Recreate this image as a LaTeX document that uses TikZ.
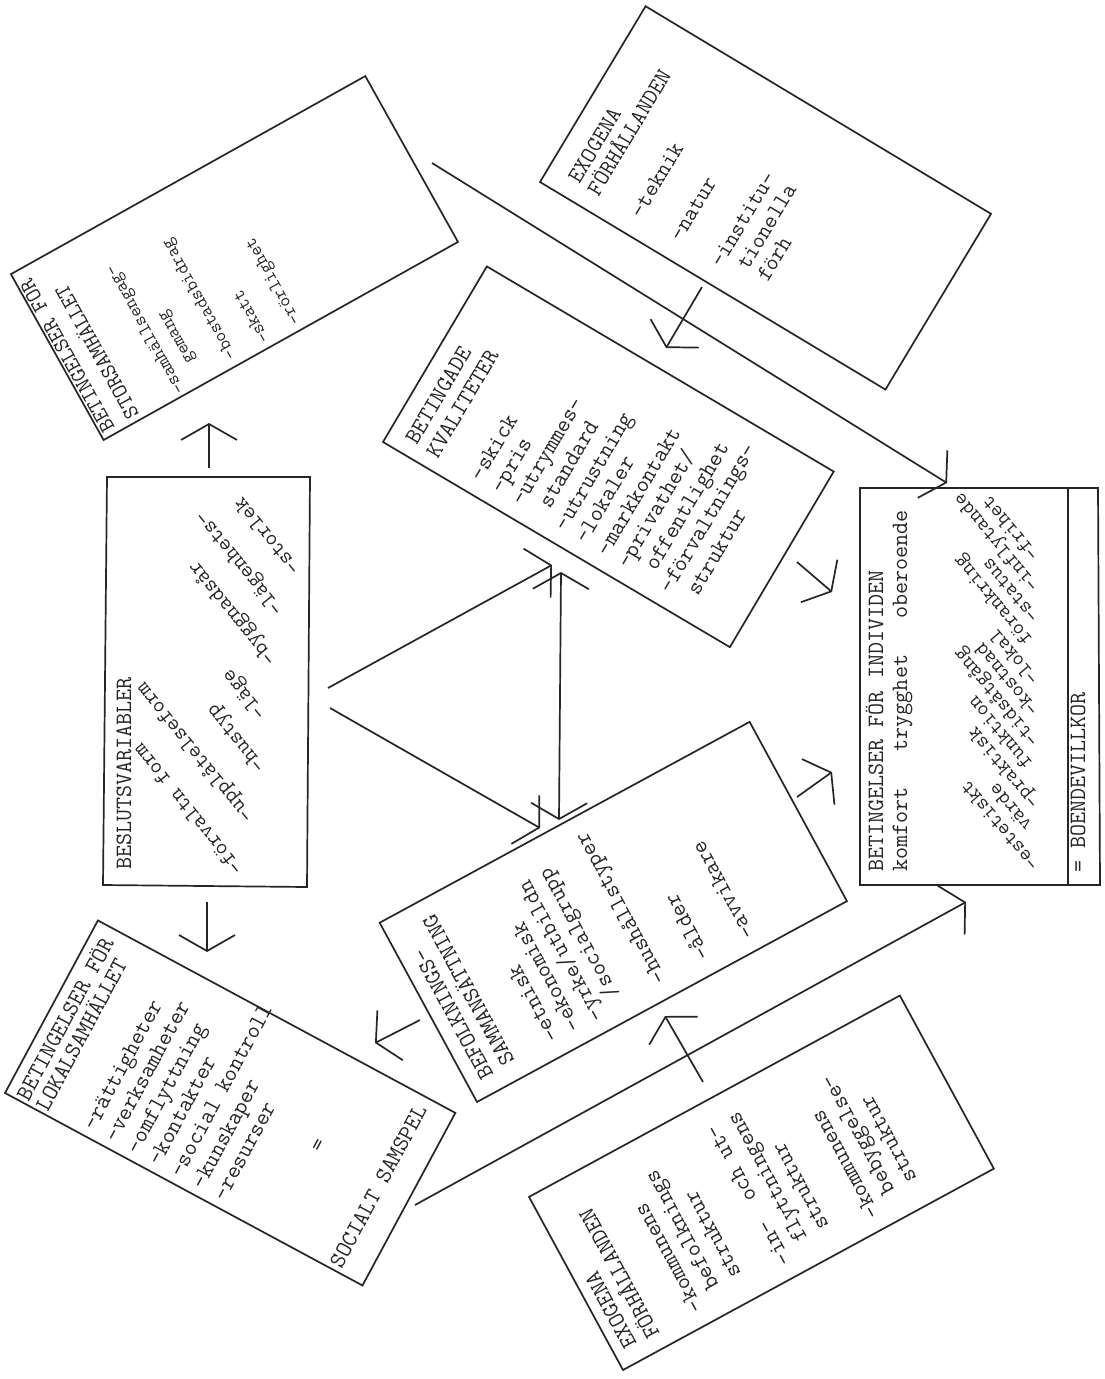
\documentclass[tikz,border=0pt]{standalone}
\usepackage{fontspec}
\usetikzlibrary{arrows.meta}
\begin{document}
\begin{tikzpicture}[x=1pt,y=-1pt,
  ln/.style={line width=1.7pt, draw=black!85},
  tipb/.tip={Straight Barb[length=16pt,width=56pt,line width=1.7pt]},
  arr/.style={ln, -tipb},
  darr/.style={ln, tipb-tipb},
  tl/.style={inner sep=0pt, anchor=west, text height=15pt, text depth=5pt, font=\ttfamily\fontsize{23.4}{28}\selectfont, text=black!85},
  tb/.style={tl, font=\ttfamily\fontsize{23}{28}\selectfont},
  ts/.style={tl, font=\ttfamily\fontsize{18.8}{22}\selectfont, text height=12pt, text depth=4pt},
  th/.style={tl, font=\ttfamily\fontsize{22.3}{26}\selectfont},
  ti/.style={tl, rotate=129, font=\ttfamily\fontsize{22.5}{26}\selectfont},
  tie/.style={tl, rotate=130, font=\ttfamily\fontsize{21.5}{26}\selectfont},
]
\useasboundingbox (0,0) rectangle (1104,1379);
\fill[white] (0,0) rectangle (1104,1379);

% ---------- Box A: Betingelser for storsamhallet
\begin{scope}[shift={(103.6,440)}, rotate=119.2, transform shape]
  \draw[ln] (0,0) rectangle (190,406);
  \node[th] (A0) at (5,11) {BETINGELSER FÖR};
  \node[th] (A1) at (5,39) {STORSAMHÄLLET};
  \node[ts] (A2) at (3,91) {-samhällsengag-};
  \node[ts] (A3) at (25,114) {gemang};
  \node[ts] (A4) at (8,153) {-bostadsbidrag};
  \node[ts] (A5) at (6,190) {-skatt};
  \node[ts] (A6) at (7,226) {-rörlighet};
\end{scope}

% ---------- Box B: Exogena forhallanden (top)
\begin{scope}[shift={(540,182)}, rotate=59, transform shape]
  \draw[ln] (0,0) rectangle (205,403);
  \node[tb] (B0) at (18,30) {EXOGENA};
  \node[tb] (B1) at (17,53) {FÖRHÅLLANDEN};
  \node[tb] (B2) at (20,101) {-teknik};
  \node[tb] (B3) at (20,147) {-natur};
  \node[tb] (B4) at (19,195) {-institu-};
  \node[tb] (B5) at (31,219) {tionella};
  \node[tb] (B6) at (31,242) {förh};
\end{scope}

% ---------- Box C: Betingade kvaliteter
\begin{scope}[shift={(383,442)}, rotate=59.4, transform shape]
  \draw[ln] (0,0) rectangle (204,403);
  \node[tl] (C0) at (14,26) {BETINGADE};
  \node[tl] (C1) at (13,51) {KVALITETER};
  \node[tl] (C2) at (15,100) {-skick};
  \node[tl] (C3) at (15,124) {-pris};
  \node[tl] (C4) at (15,148) {-utrymmes-};
  \node[tl] (C5) at (27,173) {standard};
  \node[tl] (C6) at (15,198) {-utrustning};
  \node[tl] (C7) at (15,222) {-lokaler};
  \node[tl] (C8) at (15,247) {-markkontakt};
  \node[tl] (C9) at (15,271) {-privathet/};
  \node[tl] (C10) at (27,296) {offentlighet};
  \node[tl] (C11) at (15,320) {-förvaltnings-};
  \node[tl] (C12) at (27,345) {struktur};
\end{scope}

% ---------- Box D: Beslutsvariabler
\draw[ln] (107,477) -- (310,477) -- (307,887) -- (103,885) -- cycle;
\node[tl, rotate=90] (D0) at (126,870) {BESLUTSVARIABLER};
\node[ti] (D1) at (240,872) {-förvaltn form};
\node[ti] (D2) at (250,820) {-upplåtelseform};
\node[ti] (D3) at (262,770) {-hustyp};
\node[ti] (D4) at (263,717) {-läge};
\node[ti] (D5) at (273,663) {-byggnadsår};
\node[ti] (D6) at (280,613) {-lägenhets-};
\node[ti] (D7) at (297,572) {-storlek};

% ---------- Box E: Betingelser for individen
\draw[ln] (860,488) -- (1098,488) -- (1100,885) -- (860,885) -- cycle;
\draw[ln] (1068,488) -- (1068,885);
\node[tl, rotate=90] (E0) at (878,872) {BETINGELSER FÖR INDIVIDEN};
\node[tl, rotate=90] (E1) at (902,872) {komfort\ \ \ trygghet\ \ \ oberoende};
\node[tl, rotate=90] (E2) at (1080,873) {= BOENDEVILLKOR};
\node[tie] (E3) at (1036,868) {-estetiskt};
\node[tie] (E4) at (1029,828) {värde};
\node[tie] (E5) at (1036,806) {-praktisk};
\node[tie] (E6) at (1029,766) {funktion};
\node[tie] (E7) at (1036,744) {-tidsåtgång};
\node[tie] (E8) at (1036,713) {-kostnad};
\node[tie] (E9) at (1036,682) {-lokal};
\node[tie] (E10) at (1029,642) {förankring};
\node[tie] (E11) at (1036,620) {-status};
\node[tie] (E12) at (1036,589) {-inflytande};
\node[tie] (E13) at (1036,558) {-frihet};

% ---------- Box F: Betingelser for lokalsamhallet
\begin{scope}[shift={(5,1093)}, rotate=61.7, transform shape]
  \draw[ln] (0,0) rectangle (196,406);
  \node[tl] (F0) at (3,20) {BETINGELSER FÖR};
  \node[tl] (F1) at (3,42) {LOKALSAMHÄLLET};
  \node[tl] (F2) at (8,92) {-rättigheter};
  \node[tl] (F3) at (8,116.7) {-verksamheter};
  \node[tl] (F4) at (8,141.4) {-omflyttning};
  \node[tl] (F5) at (8,166) {-kontakter};
  \node[tl] (F6) at (8,190.8) {-social kontroll};
  \node[tl] (F7) at (8,215.5) {-kunskaper};
  \node[tl] (F8) at (8,240.2) {-resurser};
  \node[tl] (F9) at (96,302) {=};
  \node[tl] (F10) at (4,375) {SOCIALT SAMSPEL};
\end{scope}

% ---------- Box G: Befolkningssammansattning
\begin{scope}[shift={(477,1102)}, rotate=118.5, transform shape]
  \draw[ln] (0,0) rectangle (204,421);
  \node[tl] (G0) at (16,23) {BEFOLKNINGS-};
  \node[tl] (G1) at (18,48) {SAMMANSÄTTNING};
  \node[tl] (G2) at (17,98) {-etnisk};
  \node[tl] (G3) at (16,122) {-ekonomisk};
  \node[tl] (G4) at (14,147) {-yrke/utbildn};
  \node[tl] (G5) at (27,171) {/socialgrupp};
  \node[tl] (G6) at (17,220) {-hushållstyper};
  \node[tl] (G7) at (17,270) {-ålder};
  \node[tl] (G8) at (14,319) {-avvikare};
\end{scope}

% ---------- Box H: Exogena forhallanden (bottom)
\begin{scope}[shift={(623,1370)}, rotate=118.5, transform shape]
  \draw[ln] (0,0) rectangle (197,422);
  \node[tl] (H0) at (16,20) {EXOGENA};
  \node[tl] (H1) at (14,45) {FÖRHÅLLANDEN};
  \node[tl] (H2) at (16,95) {-kommunens};
  \node[tl] (H3) at (28,120) {befolknings};
  \node[tl] (H4) at (28,145) {struktur};
  \node[tl] (H5) at (15,195) {-in-\ \ och ut-};
  \node[tl] (H6) at (28,220) {flyttningens};
  \node[tl] (H7) at (28,245) {struktur};
  \node[tl] (H8) at (14,295) {-kommunens};
  \node[tl] (H9) at (28,320) {bebyggelse-};
  \node[tl] (H10) at (28,345) {struktur};
\end{scope}

% ---------- connector end points
\coordinate (a1) at (432,163);  \coordinate (a2) at (947,483);
\coordinate (b1) at (702,287);  \coordinate (b2) at (666,348);
\coordinate (c1) at (797,562);  \coordinate (c2) at (832,592);
\coordinate (d1) at (797,797);  \coordinate (d2) at (832,772);
\coordinate (e1) at (703,1082); \coordinate (e2) at (665,1016);
\coordinate (f1) at (415,1205); \coordinate (f2) at (966,902);
\coordinate (g1) at (420,1020); \coordinate (g2) at (375,1043);
\coordinate (h1) at (209,468);  \coordinate (h2) at (209,423);
\coordinate (i1) at (207,902);  \coordinate (i2) at (207,952);
\coordinate (j1) at (328,688);  \coordinate (j2) at (552,565);
\coordinate (k1) at (330,708);  \coordinate (k2) at (540,828);
\coordinate (l1) at (561,572);  \coordinate (l2) at (559,820);

\draw[arr] (a1) -- (a2);
\draw[arr] (b1) -- (b2);
\draw[arr] (c1) -- (c2);
\draw[arr] (d1) -- (d2);
\draw[arr] (e1) -- (e2);
\draw[arr] (f1) -- (f2);
\draw[arr] (g1) -- (g2);
\draw[arr] (h1) -- (h2);
\draw[arr] (i1) -- (i2);
\draw[arr] (j1) -- (j2);
\draw[arr] (k1) -- (k2);
\draw[darr] (l1) -- (l2);
\end{tikzpicture}
\end{document}
